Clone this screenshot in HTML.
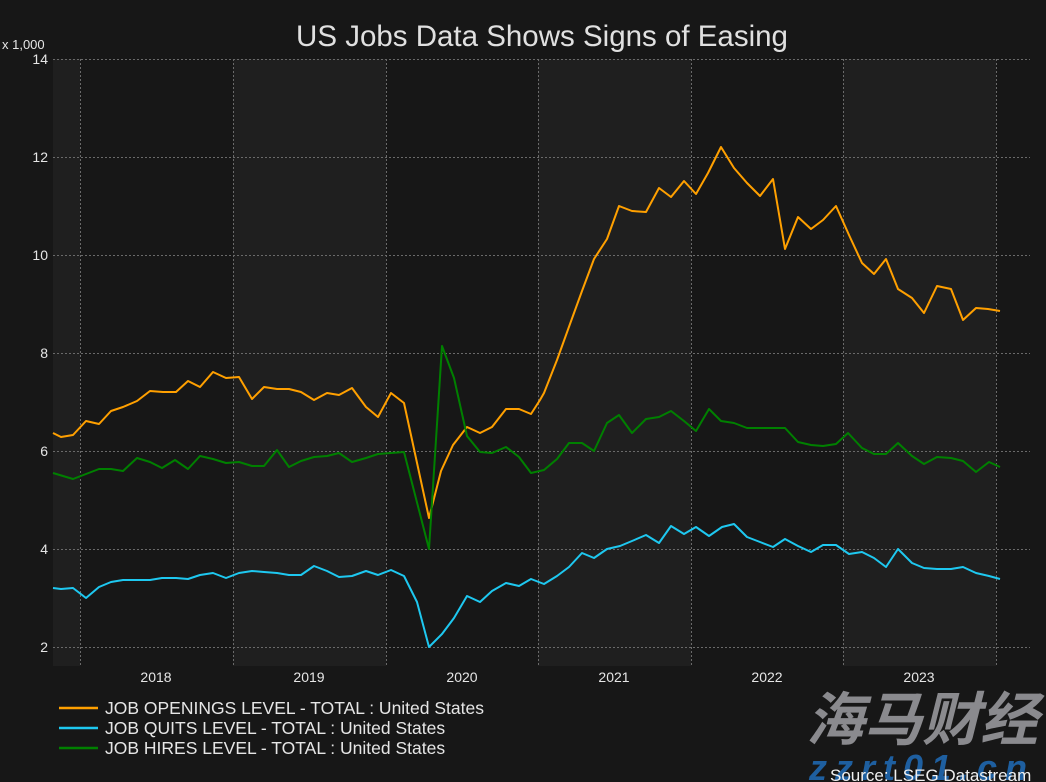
<!DOCTYPE html>
<html><head><meta charset="utf-8"><style>
html,body{margin:0;padding:0;background:#171717;}
body{width:1046px;height:782px;overflow:hidden;position:relative;font-family:"Liberation Sans",sans-serif;}
</style></head><body>
<svg width="1046" height="782" xmlns="http://www.w3.org/2000/svg" style="position:absolute;left:0;top:0">
<rect width="1046" height="782" fill="#171717"/>
<g>
<rect x="53" y="59" width="27" height="607" fill="#1f1f1f"/>
<rect x="233" y="59" width="153" height="607" fill="#1f1f1f"/>
<rect x="538" y="59" width="153" height="607" fill="#1f1f1f"/>
<rect x="843" y="59" width="153" height="607" fill="#1f1f1f"/>
</g>
<g stroke="#6a6a6a" stroke-width="1" stroke-dasharray="2,2">
<line x1="53" y1="59.5" x2="1030" y2="59.5"/>
<line x1="53" y1="157.5" x2="1030" y2="157.5"/>
<line x1="53" y1="255.5" x2="1030" y2="255.5"/>
<line x1="53" y1="353.5" x2="1030" y2="353.5"/>
<line x1="53" y1="451.5" x2="1030" y2="451.5"/>
<line x1="53" y1="549.5" x2="1030" y2="549.5"/>
<line x1="53" y1="647.5" x2="1030" y2="647.5"/>
<line x1="80.5" y1="59" x2="80.5" y2="666"/>
<line x1="233.5" y1="59" x2="233.5" y2="666"/>
<line x1="386.5" y1="59" x2="386.5" y2="666"/>
<line x1="538.5" y1="59" x2="538.5" y2="666"/>
<line x1="691.5" y1="59" x2="691.5" y2="666"/>
<line x1="843.5" y1="59" x2="843.5" y2="666"/>
<line x1="996.5" y1="59" x2="996.5" y2="666"/>
</g>
<g fill="#e6e6e6" font-size="14" text-anchor="end">
<text x="48" y="64">14</text><text x="48" y="162">12</text><text x="48" y="260">10</text>
<text x="48" y="358">8</text><text x="48" y="456">6</text><text x="48" y="554">4</text><text x="48" y="652">2</text>
</g>
<text x="2" y="49" fill="#e6e6e6" font-size="13">x 1,000</text>
<g fill="#e6e6e6" font-size="14" text-anchor="middle">
<text x="156" y="682">2018</text><text x="309" y="682">2019</text><text x="462" y="682">2020</text>
<text x="614" y="682">2021</text><text x="767" y="682">2022</text><text x="919" y="682">2023</text>
</g>
<text x="542" y="46" fill="#e0e0e0" font-size="29.5" text-anchor="middle">US Jobs Data Shows Signs of Easing</text>
<g fill="none" stroke-width="2" stroke-linejoin="round">
<polyline stroke="#ffa000" points="53,433 61,437 73,435 86,421 99,424 111,411 123,407 137,401 150,391 163,392 176,392 188,381 200,387 213,372 226,378 239,377 252,399 264,387 277,389 289,389 301,392 314,400 327,393 339,395 352,388 366,407 378,417 391,393 404,403 429,518 441,471 453,445 467,427 480,433 492,427 506,409 519,409 531,414 540,400 544,393 557,360 570,324 582,291 594,259 607,239 619,206 632,211 646,212 659,188 671,197 684,181 696,194 708,173 721,147 734,168 747,183 760,196 773,179 785,249 798,217 811,229 823,220 836,206 849,235 862,263 874,274 886,259 898,289 912,298 924,313 937,286 951,289 963,320 976,308 988,309 1000,311"/>
<polyline stroke="#008000" points="53,473 73,479 86,474 99,469 111,469 123,471 137,458 150,462 162,468 175,460 188,469 200,456 213,459 226,463 239,462 252,466 264,466 277,450 289,467 301,461 314,457 327,456 339,453 352,462 366,458 378,454 404,452 429,549 442,346 454,378 467,436 480,452 492,453 506,447 519,457 531,473 544,470 557,459 569,443 582,443 594,451 607,423 619,415 632,433 646,419 659,417 671,411 684,421 696,431 709,409 721,421 734,423 747,428 785,428 798,442 811,445 823,446 836,444 848,433 862,448 874,454 886,454 898,443 912,456 924,464 937,457 951,458 963,461 976,472 989,462 1000,467"/>
<polyline stroke="#1ec8f0" points="53,588 61,589 73,588 86,598 99,587 111,582 123,580 150,580 162,578 176,578 188,579 200,575 213,573 226,578 239,573 252,571 264,572 277,573 289,575 301,575 314,566 327,571 339,577 352,576 366,571 378,575 391,570 404,576 417,602 429,647 442,634 454,618 467,596 480,602 492,591 506,583 519,586 531,579 544,584 557,576 569,567 582,553 594,558 607,549 620,546 632,541 646,535 659,543 671,526 684,534 696,527 709,536 722,527 734,524 747,537 760,542 773,547 785,539 798,546 811,552 823,545 836,545 849,554 862,552 874,558 886,567 898,549 912,563 924,568 937,569 951,569 963,567 976,573 989,576 1000,579"/>
</g>
<g stroke-width="2.5">
<line x1="59" y1="708" x2="98" y2="708" stroke="#ffa000"/>
<line x1="59" y1="728" x2="98" y2="728" stroke="#1ec8f0"/>
<line x1="59" y1="748" x2="98" y2="748" stroke="#008000"/>
</g>
<g fill="#e6e6e6" font-size="17.5">
<text x="105" y="714">JOB OPENINGS LEVEL - TOTAL : United States</text>
<text x="105" y="734">JOB QUITS LEVEL - TOTAL : United States</text>
<text x="105" y="754">JOB HIRES LEVEL - TOTAL : United States</text>
</g>
<text x="922" y="740" fill="#8a8a8e" font-size="58" font-weight="bold" font-style="italic" text-anchor="middle" font-family="'Noto Sans CJK SC',sans-serif" textLength="232">海马财经</text>
<text x="922" y="780" fill="#1e5fa0" font-size="36" font-weight="bold" font-style="italic" text-anchor="middle" letter-spacing="8">zzrt01.cn</text>
<text x="830" y="781" fill="#f0f0f0" font-size="17">Source: LSEG Datastream</text>
</svg>
</body></html>
